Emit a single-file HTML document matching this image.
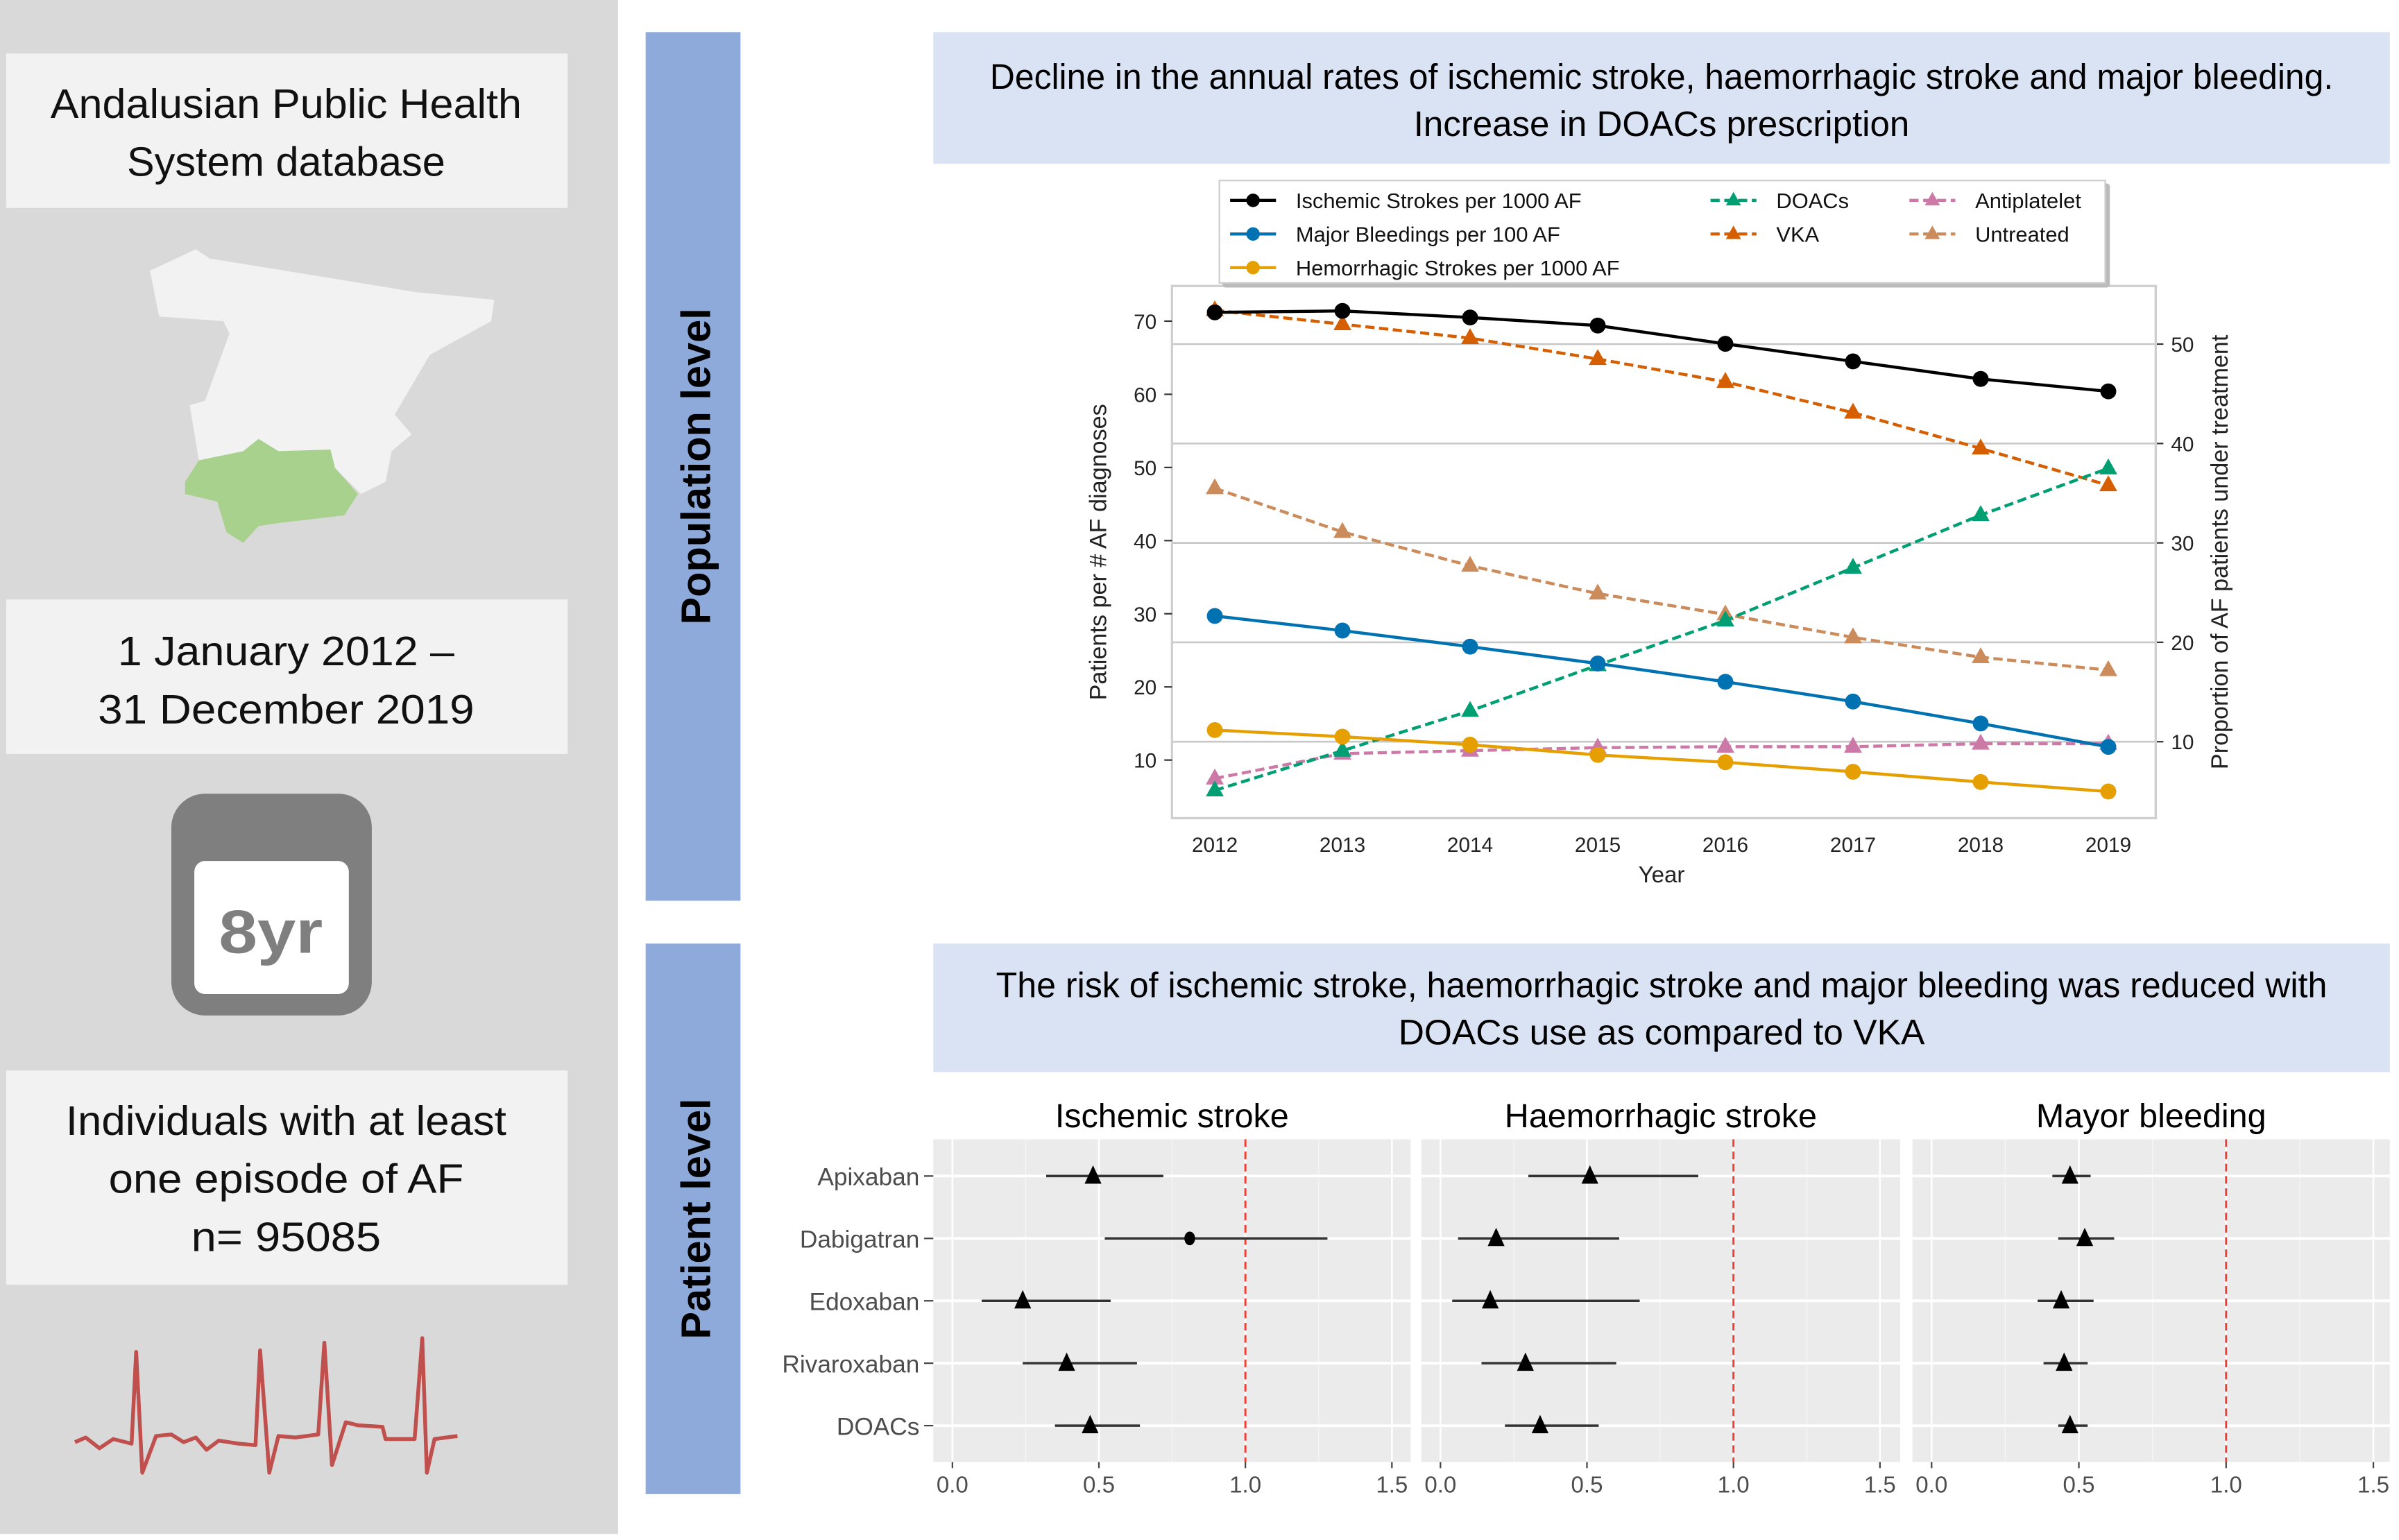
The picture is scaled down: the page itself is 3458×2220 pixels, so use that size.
<!DOCTYPE html>
<html><head><meta charset="utf-8"><style>
html,body{margin:0;padding:0;background:#fff;}
svg{display:block;}
text{font-family:"Liberation Sans",sans-serif;}
</style></head><body>
<svg id="root" width="3458" height="2220" viewBox="0 0 1568 1007" preserveAspectRatio="none" xmlns="http://www.w3.org/2000/svg">
<rect x="0" y="0" width="1568" height="1007" fill="#fff"/>
<g>
<rect x="0" y="0" width="404" height="1003" fill="#d9d9d9"/>
<rect x="4" y="35" width="367" height="101" fill="#f2f2f2"/>
<text x="187" y="77" font-size="27" text-anchor="middle" fill="#111" textLength="308" lengthAdjust="spacingAndGlyphs">Andalusian Public Health</text>
<text x="187" y="115" font-size="27" text-anchor="middle" fill="#111" textLength="208" lengthAdjust="spacingAndGlyphs">System database</text>
<polygon fill="#f2f2f2" points="98,177 128,163 137,169 272,191 323,196 321,210 281,232 258,271 269,284 256,295 252,315 236,323 219,306 216,294 182,295 169,287 159,295 130,301 124,265 134,262 150,218 146,210 104,207"/>
<polygon fill="#a9d18e" points="121,315 130,301 159,295 169,287 182,295 216,294 219,306 234,323 225,337 182,342 169,344 159,355 148,348 142,328 121,323"/>
<rect x="4" y="392" width="367" height="101" fill="#f2f2f2"/>
<text x="187" y="435" font-size="27" text-anchor="middle" fill="#111" textLength="220" lengthAdjust="spacingAndGlyphs">1 January 2012 –</text>
<text x="187" y="473" font-size="27" text-anchor="middle" fill="#111" textLength="246" lengthAdjust="spacingAndGlyphs">31 December 2019</text>
<rect x="112" y="519" width="131" height="145" rx="22" fill="#7f7f7f"/>
<rect x="127" y="563" width="101" height="87" rx="7" fill="#fff"/>
<text x="177" y="623" font-size="40" font-weight="bold" text-anchor="middle" fill="#7f7f7f" textLength="68" lengthAdjust="spacingAndGlyphs">8yr</text>
<rect x="4" y="700" width="367" height="140" fill="#f2f2f2"/>
<text x="187" y="742" font-size="27" text-anchor="middle" fill="#111" textLength="288" lengthAdjust="spacingAndGlyphs">Individuals with at least</text>
<text x="187" y="780" font-size="27" text-anchor="middle" fill="#111" textLength="232" lengthAdjust="spacingAndGlyphs">one episode of AF</text>
<text x="187" y="818" font-size="27" text-anchor="middle" fill="#111" textLength="124" lengthAdjust="spacingAndGlyphs">n= 95085</text>
<polyline fill="none" stroke="#c0504d" stroke-width="2.5" stroke-linejoin="round" points="49,943 56,940 65,947 74,941 86,944 89,884 93,963 102,939 112,938 120,943 128,940 135,948 143,942 156,944 167,945 170,883 176,963 182,939 193,940 208,938 212,878 217,958 226,930 234,932 250,933 252,941 271,941 276,875 279,963 284,941 299,939"/>
</g>
<rect x="422" y="21" width="62" height="568" fill="#8eaadb"/>
<text transform="translate(464,305) rotate(-90)" font-size="27" font-weight="bold" text-anchor="middle" fill="#000">Population level</text>
<rect x="422" y="617" width="62" height="360" fill="#8eaadb"/>
<text transform="translate(464,797) rotate(-90)" font-size="27" font-weight="bold" text-anchor="middle" fill="#000">Patient level</text>
<rect x="610" y="21" width="952" height="86" fill="#dae3f3"/>
<text x="1086" y="58" font-size="23" text-anchor="middle" fill="#000" textLength="878" lengthAdjust="spacingAndGlyphs">Decline in the annual rates of ischemic stroke, haemorrhagic stroke and major bleeding.</text>
<text x="1086" y="89" font-size="23" text-anchor="middle" fill="#000" textLength="324" lengthAdjust="spacingAndGlyphs">Increase in DOACs prescription</text>
<rect x="610" y="617" width="952" height="84" fill="#dae3f3"/>
<text x="1086" y="652" font-size="23" text-anchor="middle" fill="#000" textLength="870" lengthAdjust="spacingAndGlyphs">The risk of ischemic stroke, haemorrhagic stroke and major bleeding was reduced with</text>
<text x="1086" y="683" font-size="23" text-anchor="middle" fill="#000" textLength="344" lengthAdjust="spacingAndGlyphs">DOACs use as compared to VKA</text>
<g id="linechart"></g>
<g id="forest"></g>
</svg>
<script>
const NS='http://www.w3.org/2000/svg';
const years=[2012,2013,2014,2015,2016,2017,2018,2019];
const ischemic=[71.2,71.4,70.5,69.4,66.9,64.5,62.1,60.4];
const bleeding=[29.7,27.7,25.5,23.2,20.7,18.0,15.0,11.8];
const hemorrhagic=[14.1,13.2,12.1,10.7,9.7,8.4,7.0,5.7];
const doacs=[5.1,9.1,13.1,17.7,22.2,27.5,32.8,37.5];
const vka=[53.4,52.0,50.6,48.5,46.2,43.1,39.5,35.8];
const antiplatelet=[6.3,8.8,9.1,9.4,9.5,9.5,9.8,9.8];
const untreated=[35.5,31.1,27.7,24.9,22.8,20.5,18.5,17.2];
const leftTicks=[10,20,30,40,50,60,70];
const rightTicks=[10,20,30,40,50];
const drugs=['Apixaban','Dabigatran','Edoxaban','Rivaroxaban','DOACs'];
const panelTitles=['Ischemic stroke','Haemorrhagic stroke','Mayor bleeding'];
const isEst=[0.48,0.81,0.24,0.39,0.47];
const isLo=[0.32,0.52,0.10,0.24,0.35];
const isHi=[0.72,1.28,0.54,0.63,0.64];
const hsEst=[0.51,0.19,0.17,0.29,0.34];
const hsLo=[0.30,0.06,0.04,0.14,0.22];
const hsHi=[0.88,0.61,0.68,0.60,0.54];
const mbEst=[0.47,0.52,0.44,0.45,0.47];
const mbLo=[0.41,0.43,0.36,0.38,0.43];
const mbHi=[0.54,0.62,0.55,0.53,0.53];
const forestTicks=[0,0.5,1.0,1.5];

function mk(tag,attrs,parent){const e=document.createElementNS(NS,tag);for(const k in attrs)e.setAttribute(k,attrs[k]);parent.appendChild(e);return e;}

const lc=document.getElementById('linechart');
const X0=766,X1=1409,Y0=187,Y1=535;
const xs=y=>794+(y-2012)*(1378-794)/7;
const yl=v=>497-(v-10)*(497-210)/60;
const yr=v=>485-(v-10)*(485-225)/40;
rightTicks.forEach(t=>{
 const g=mk('line',{x1:X0,x2:X1,y1:yr(t),y2:yr(t),stroke:'#c8c8c8','stroke-width':1.2},lc);
 
 
 mk('line',{x1:X1,x2:X1+5,y1:yr(t),y2:yr(t),stroke:'#333','stroke-width':1},lc);
 const tx=mk('text',{x:X1+10,y:yr(t)+5,'font-size':13.5,fill:'#222'},lc);tx.textContent=t;
 
 
});
mk('rect',{x:X0,y:Y0,width:X1-X0,height:Y1-Y0,fill:'none',stroke:'#cfcfcf','stroke-width':1.5},lc);
leftTicks.forEach(t=>{
 mk('line',{x1:X0-5,x2:X0,y1:yl(t),y2:yl(t),stroke:'#333','stroke-width':1},lc);
 const tx=mk('text',{x:X0-10,y:yl(t)+5,'font-size':13.5,fill:'#222','text-anchor':'end'},lc);tx.textContent=t;
 
 
});
years.forEach(y=>{
 const tx=mk('text',{x:xs(y),y:557,'font-size':13.5,fill:'#222','text-anchor':'middle'},lc);tx.textContent=y;
 
 
});
let t=mk('text',{x:1086,y:577,'font-size':15,fill:'#222','text-anchor':'middle'},lc);t.textContent='Year';

t=mk('text',{transform:'translate(723,361) rotate(-90)','font-size':15.5,fill:'#222','text-anchor':'middle'},lc);t.textContent='Patients per # AF diagnoses';

t=mk('text',{transform:'translate(1456,361) rotate(-90)','font-size':15.5,fill:'#222','text-anchor':'middle'},lc);t.textContent='Proportion of AF patients under treatment';


const series=[
 {name:'vka',d:vka,c:'#d55e00',dash:true,ax:yr,m:'tri'},
 {name:'untreated',d:untreated,c:'#cc8b5a',dash:true,ax:yr,m:'tri'},
 {name:'antiplatelet',d:antiplatelet,c:'#cc79a7',dash:true,ax:yr,m:'tri'},
 {name:'doacs',d:doacs,c:'#009e73',dash:true,ax:yr,m:'tri'},
 {name:'hemorrhagic',d:hemorrhagic,c:'#e69f00',dash:false,ax:yl,m:'dot'},
 {name:'bleeding',d:bleeding,c:'#0072b2',dash:false,ax:yl,m:'dot'},
 {name:'ischemic',d:ischemic,c:'#000',dash:false,ax:yl,m:'dot'}
];
function marker(g,x,y,s,c,sz){
 if(s==='tri') return mk('polygon',{points:`${x},${y-sz} ${x-sz*0.9},${y+sz*0.6} ${x+sz*0.9},${y+sz*0.6}`,fill:c},g);
 return mk('circle',{cx:x,cy:y,r:sz*0.8,fill:c},g);
}
series.forEach(s=>{
 const g=mk('g',{},lc);
 
 
 const pts=s.d.map((v,i)=>xs(years[i])+','+s.ax(v)).join(' ');
 const pl=mk('polyline',{points:pts,fill:'none',stroke:s.c,'stroke-width':2,'stroke-dasharray':s.dash?'6,3':'none'},g);
 
 
 s.d.forEach((v,i)=>{const m=marker(g,xs(years[i]),s.ax(v),s.m,s.c,6.5);
  
  });
});
const lg=mk('g',{},lc);


mk('rect',{x:799,y:120,width:580,height:68,fill:'#bbb',rx:2},lg);
mk('rect',{x:797,y:118,width:579,height:67,fill:'#fff',stroke:'#ccc','stroke-width':1},lg);
const legItems=[
 ['Ischemic Strokes per 1000 AF','#000',false,'dot',804,131],
 ['Major Bleedings per 100 AF','#0072b2',false,'dot',804,153],
 ['Hemorrhagic Strokes per 1000 AF','#e69f00',false,'dot',804,175],
 ['DOACs','#009e73',true,'tri',1118,131],
 ['VKA','#d55e00',true,'tri',1118,153],
 ['Antiplatelet','#cc79a7',true,'tri',1248,131],
 ['Untreated','#cc8b5a',true,'tri',1248,153]
];
legItems.forEach(it=>{
 const g=mk('g',{},lg);
 
 
 mk('line',{x1:it[4],x2:it[4]+30,y1:it[5],y2:it[5],stroke:it[1],'stroke-width':2,'stroke-dasharray':it[2]?'6,3':'none'},g);
 marker(g,it[4]+15,it[5],it[3],it[1],5.5);
 const tx=mk('text',{x:it[4]+43,y:it[5]+5,'font-size':14,fill:'#111'},g);tx.textContent=it[0];
});

const fp=document.getElementById('forest');
const panels=[{x:610,w:312,s:191.5,est:isEst,lo:isLo,hi:isHi},{x:929,w:313,s:191.5,est:hsEst,lo:hsLo,hi:hsHi},{x:1250,w:312,s:192.5,est:mbEst,lo:mbLo,hi:mbHi}];
const rowY=i=>769+i*40.8;
const PY0=745,PY1=956;
panels.forEach((p,pi)=>{
 const g=mk('g',{},fp);
 
 
 const fx=v=>p.x+12.5+v*p.s;
 mk('rect',{x:p.x,y:PY0,width:p.w,height:PY1-PY0,fill:'#ebebeb'},g);
 [0.25,0.75,1.25].forEach(v=>mk('line',{x1:fx(v),x2:fx(v),y1:PY0,y2:PY1,stroke:'#f5f5f5','stroke-width':0.6},g));
 forestTicks.forEach(v=>{
  mk('line',{x1:fx(v),x2:fx(v),y1:PY0,y2:PY1,stroke:'#fff','stroke-width':1.2},g);
  mk('line',{x1:fx(v),x2:fx(v),y1:PY1,y2:PY1+4,stroke:'#444','stroke-width':1},g);
  const tx=mk('text',{x:fx(v),y:976,'font-size':15,fill:'#4d4d4d','text-anchor':'middle'},g);tx.textContent=v.toFixed(1);
  
  
 });
 drugs.forEach((d,i)=>mk('line',{x1:p.x,x2:p.x+p.w,y1:rowY(i),y2:rowY(i),stroke:'#fff','stroke-width':1.8},g));
 const rl=mk('line',{x1:fx(1),x2:fx(1),y1:PY0,y2:PY1,stroke:'#f03c32','stroke-width':1.3,'stroke-dasharray':'5,3'},g);
 
 
 const tt=mk('text',{x:p.x+p.w/2,y:737,'font-size':22,fill:'#000','text-anchor':'middle'},g);tt.textContent=panelTitles[pi];
 
 
 drugs.forEach((d,i)=>{
  const ci=mk('line',{x1:fx(p.lo[i]),x2:fx(p.hi[i]),y1:rowY(i),y2:rowY(i),stroke:'#333','stroke-width':1.6},g);
  
  
  const x=fx(p.est[i]),y=rowY(i);
  let m;
  if(pi===0&&i===1) m=mk('ellipse',{cx:x,cy:y,rx:3.5,ry:4.5,fill:'#000'},g);
  else m=mk('polygon',{points:`${x},${y-7} ${x-5.5},${y+5} ${x+5.5},${y+5}`,fill:'#000'},g);
  
  
 });
});
drugs.forEach((d,i)=>{
 const tx=mk('text',{x:601,y:rowY(i)+6,'font-size':16,fill:'#4d4d4d','text-anchor':'end'},fp);tx.textContent=d;
 
 
 mk('line',{x1:604,x2:610,y1:rowY(i),y2:rowY(i),stroke:'#444','stroke-width':1},fp);
});
</script>
</body></html>
